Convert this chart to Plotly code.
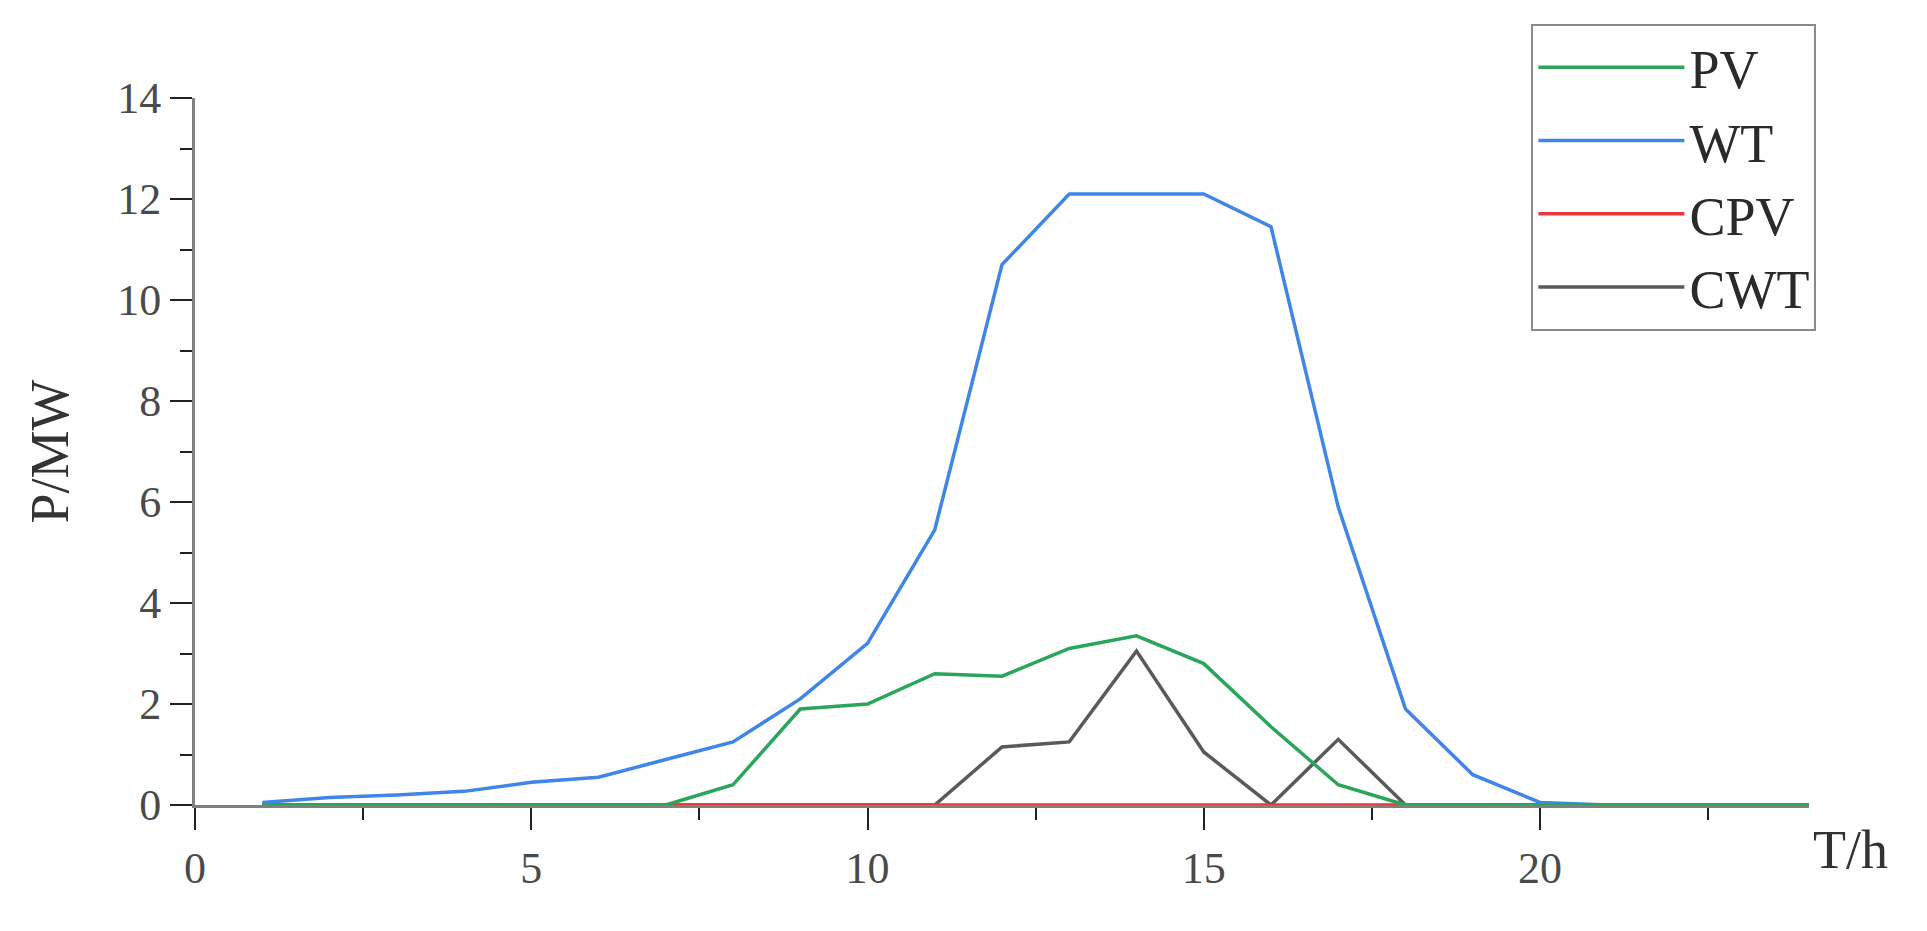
import plotly.graph_objects as go

hours = list(range(1, 25))
pv = [0, 0, 0, 0, 0, 0, 0, 0.4, 1.9, 2.0, 2.6, 2.55, 3.1, 3.35, 2.8, 1.55, 0.4, 0, 0, 0, 0, 0, 0, 0]
wt = [0.05, 0.15, 0.2, 0.27, 0.45, 0.55, 0.9, 1.25, 2.1, 3.2, 5.45, 10.7, 12.1, 12.1, 12.1, 11.45, 5.9, 1.9, 0.6, 0.05, 0, 0, 0, 0]
cpv = [0] * 24
cwt = [0, 0, 0, 0, 0, 0, 0, 0, 0, 0, 0, 1.15, 1.25, 3.05, 1.05, 0, 1.3, 0, 0, 0, 0, 0, 0, 0]

series = [
    ("PV", pv, "#2aa55a"),
    ("WT", wt, "#3f86e6"),
    ("CPV", cpv, "#e8383d"),
    ("CWT", cwt, "#5a5a5a"),
]

fig = go.Figure()
# draw order so that PV appears on top at zero like the reference
draw_order = ["CWT", "CPV", "WT", "PV"]
rank = {"PV": 1, "WT": 2, "CPV": 3, "CWT": 4}
lookup = {n: (v, c) for n, v, c in series}
for name in draw_order:
    v, c = lookup[name]
    fig.add_trace(go.Scatter(x=hours, y=v, mode="lines", name=name,
                             line=dict(color=c, width=3.5), legendrank=rank[name]))

font_family = "Liberation Serif, Times New Roman, serif"
fig.update_layout(
    width=1911, height=915,
    margin=dict(l=187, r=110, t=90, b=118),
    paper_bgcolor="white", plot_bgcolor="white",
    font=dict(family=font_family, color="#444", size=44),
    showlegend=True,
    legend=dict(x=0.828, y=1.105, xanchor="left", yanchor="top",
                bordercolor="#8a8a8a", borderwidth=2, bgcolor="white",
                font=dict(family=font_family, size=54, color="#2a2a2a"),
                itemwidth=146, tracegroupgap=0, traceorder="normal"),
    xaxis=dict(range=[0, 24], tickvals=[0, 5, 10, 15, 20], showgrid=False, zeroline=False,
               showline=True, linecolor="#808080", linewidth=3,
               ticks="outside", ticklen=22, tickwidth=2, tickcolor="#222",
               minor=dict(tickvals=[2.5, 7.5, 12.5, 17.5, 22.5], ticks="outside", ticklen=12, tickwidth=2, tickcolor="#222"),
               tickfont=dict(size=44, color="#4a4a4a")),
    yaxis=dict(range=[0, 14], tickvals=[0, 2, 4, 6, 8, 10, 12, 14], showgrid=False, zeroline=False,
               showline=True, linecolor="#808080", linewidth=3,
               ticks="outside", ticklen=22, tickwidth=2, tickcolor="#222",
               minor=dict(tickvals=[1, 3, 5, 7, 9, 11, 13], ticks="outside", ticklen=12, tickwidth=2, tickcolor="#222"),
               tickfont=dict(size=44, color="#4a4a4a"),
               title=dict(text="P/MW", font=dict(size=54, color="#333"), standoff=32)),
    annotations=[dict(text="T/h", xref="paper", yref="paper", x=1.0, y=-0.064,
                      xanchor="left", yanchor="middle", showarrow=False,
                      xshift=2, font=dict(size=54, color="#333", family=font_family))],
)

fig.write_html("out.html")
